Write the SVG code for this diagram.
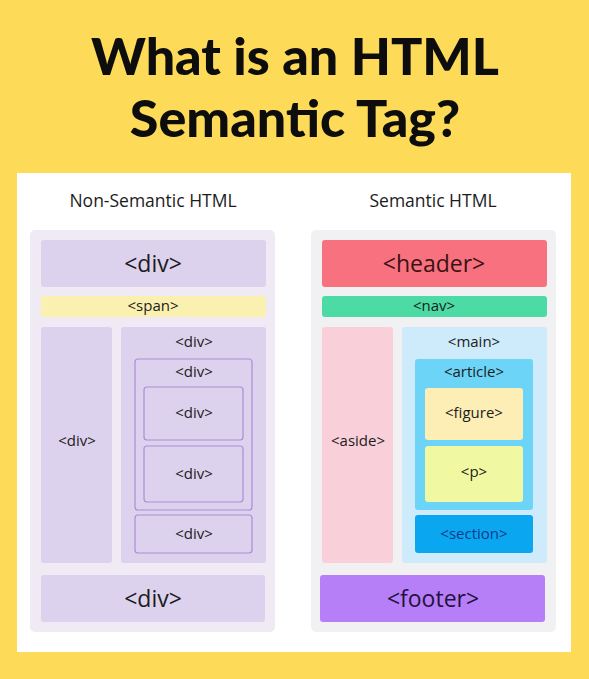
<svg xmlns="http://www.w3.org/2000/svg" width="589" height="679" viewBox="0 0 589 679">
<style>
.t{font-family:"Open Sans","Noto Sans","Liberation Sans",sans-serif;fill:#1c1c1c;text-anchor:middle}
.title{font-family:Lato,"Open Sans",sans-serif;font-size:52px;font-weight:900;fill:#0d0d0d}
.h{font-size:17.5px}
.big{font-size:23px}
.sm{font-size:15px}
.nd{fill:#DDD2EE}
.ol{fill:none;stroke:#A98ED6;stroke-width:1.2}
</style>
<rect width="589" height="679" fill="#FDDB58"/>
<text class="t title" x="295" y="75">What is an HTML</text>
<text class="t title" x="295" y="137">Semantic Tag?</text>
<rect x="17" y="173" width="554" height="479" fill="#FFFFFF"/>
<text class="t h" x="153" y="207">Non-Semantic HTML</text>
<text class="t h" x="433" y="207">Semantic HTML</text>
<g id="nonsemantic">
<rect x="30" y="230" width="245" height="402" rx="5" fill="#EFEAF4"/>
<g id="ns-top"><rect class="nd" x="41" y="240" width="225" height="47" rx="3"/><text class="t big" x="153" y="272">&lt;div&gt;</text></g>
<g id="ns-span"><rect x="41" y="296" width="225" height="21" rx="3" fill="#FAF0B0"/><text class="t sm" x="153" y="311">&lt;span&gt;</text></g>
<g id="ns-left"><rect class="nd" x="41" y="327" width="71" height="236" rx="3"/><text class="t sm" x="77" y="446">&lt;div&gt;</text></g>
<g id="ns-right"><rect class="nd" x="121" y="327" width="145" height="236" rx="3"/><text class="t sm" x="194" y="347">&lt;div&gt;</text></g>
<g id="ns-inner"><rect class="ol" x="135" y="359" width="117" height="151" rx="3"/><text class="t sm" x="194" y="377">&lt;div&gt;</text></g>
<g id="ns-d1"><rect class="ol" x="144" y="387" width="99" height="53" rx="3"/><text class="t sm" x="194" y="418">&lt;div&gt;</text></g>
<g id="ns-d2"><rect class="ol" x="144" y="446" width="99" height="56" rx="3"/><text class="t sm" x="194" y="479">&lt;div&gt;</text></g>
<g id="ns-d3"><rect class="ol" x="135" y="515" width="117" height="38" rx="3"/><text class="t sm" x="194" y="539">&lt;div&gt;</text></g>
<g id="ns-bottom"><rect class="nd" x="41" y="575" width="224" height="47" rx="3"/><text class="t big" x="153" y="607">&lt;div&gt;</text></g>
</g>
<g id="semantic">
<rect x="311" y="230" width="245" height="402" rx="5" fill="#F1F0F3"/>
<g id="header"><rect x="322" y="240" width="225" height="47" rx="3" fill="#F8717F"/><text class="t big" x="434" y="272" style="fill:#3a1216">&lt;header&gt;</text></g>
<g id="nav"><rect x="322" y="296" width="225" height="21" rx="3" fill="#4CDBA5"/><text class="t sm" x="434" y="311">&lt;nav&gt;</text></g>
<g id="aside"><rect x="322" y="327" width="71" height="236" rx="3" fill="#F9D0DA"/><text class="t sm" x="358" y="446">&lt;aside&gt;</text></g>
<g id="main"><rect x="402" y="327" width="145" height="236" rx="3" fill="#CDEBFB"/><text class="t sm" x="474" y="347">&lt;main&gt;</text></g>
<g id="article"><rect x="415" y="359" width="118" height="151" rx="3" fill="#6CD4F6"/><text class="t sm" x="474" y="377">&lt;article&gt;</text></g>
<g id="figure"><rect x="425" y="388" width="98" height="52" rx="3" fill="#FDEEB6"/><text class="t sm" x="474" y="418">&lt;figure&gt;</text></g>
<g id="p"><rect x="425" y="446" width="98" height="56" rx="3" fill="#F0F9A2"/><text class="t sm" x="474" y="477">&lt;p&gt;</text></g>
<g id="section"><rect x="415" y="515" width="118" height="38" rx="3" fill="#0AA6EF"/><text class="t sm" x="474" y="539" style="fill:#0B3C8C">&lt;section&gt;</text></g>
<g id="footer"><rect x="320" y="575" width="225" height="47" rx="3" fill="#B67FF8"/><text class="t big" x="433" y="607" style="fill:#24113f">&lt;footer&gt;</text></g>
</g>
</svg>
